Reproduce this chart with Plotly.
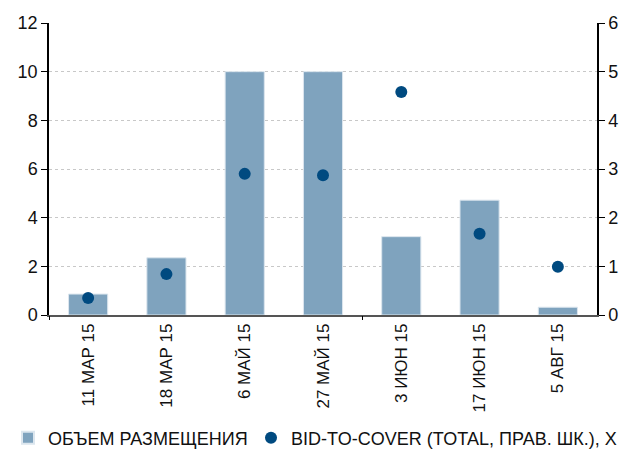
import plotly.graph_objects as go

categories = ["11 МАР 15", "18 МАР 15", "6 МАЙ 15", "27 МАЙ 15", "3 ИЮН 15", "17 ИЮН 15", "5 АВГ 15"]
volume = [0.86, 2.35, 10.0, 10.0, 3.22, 4.72, 0.32]
bid_to_cover = [0.35, 0.84, 2.90, 2.87, 4.58, 1.67, 0.99]
tick_interval = 4  # category-axis tick mark every 4 categories

FONT = "Liberation Sans Narrow, Arial Narrow, Liberation Sans, Arial, sans-serif"

W, H = 621, 441  # page body has an 8px margin inside the 629x449 window

fig = go.Figure()
fig.add_trace(go.Bar(
    x=categories, y=volume, name="ОБЪЕМ РАЗМЕЩЕНИЯ",
    marker=dict(color="#7fa3be", line=dict(color="#dce6ee", width=1)),
    width=0.5, yaxis="y", legend="legend",
))
fig.add_trace(go.Scatter(
    x=categories, y=bid_to_cover, name="BID-TO-COVER (TOTAL, ПРАВ. ШК.), X",
    mode="markers", marker=dict(color="#004a80", size=12),
    yaxis="y2", legend="legend2",
))

legend_common = dict(orientation="h", xref="container", yref="container",
                     xanchor="left", y=(H - 430) / H, yanchor="middle",
                     font=dict(size=18), itemsizing="constant",
                     itemwidth=30, bgcolor="rgba(0,0,0,0)")

n = len(categories)
boundary_ticks = [i - 0.5 for i in range(0, n + 1, tick_interval)]

fig.update_layout(
    width=W, height=H,
    margin=dict(l=41, r=32, t=15, b=134),
    paper_bgcolor="white", plot_bgcolor="white",
    font=dict(family=FONT, size=18, color="#111111"),
    showlegend=True,
    legend=dict(x=-4 / W, **legend_common),
    legend2=dict(x=243 / W, **legend_common),
    xaxis=dict(
        type="category", tickangle=-90, showgrid=False, automargin=False,
        showline=True, linecolor="#555555", linewidth=1.5,
        ticks="", tickfont=dict(size=17),
    ),
    xaxis2=dict(
        overlaying="x", side="bottom", range=[-0.5, n - 0.5],
        tickvals=boundary_ticks, ticks="outside", ticklen=4, tickcolor="#000000",
        tickwidth=1, showticklabels=False, showgrid=False, showline=False,
        zeroline=False, automargin=False,
    ),
    yaxis=dict(
        range=[0, 12], dtick=2, showgrid=True, automargin=False,
        gridcolor="#c8c8c8", griddash="dot", gridwidth=1,
        showline=True, linecolor="#000000", linewidth=1.5,
        ticks="outside", ticklen=6, tickcolor="#000000",
        zeroline=False, tickfont=dict(size=18),
    ),
    yaxis2=dict(
        range=[0, 6], dtick=1, overlaying="y", side="right", automargin=False,
        showgrid=False, showline=True, linecolor="#000000", linewidth=1.5,
        ticks="outside", ticklen=6, tickcolor="#000000",
        zeroline=False, tickfont=dict(size=18),
    ),
)

# an invisible anchor trace so the tick-mark axis is drawn
fig.add_trace(go.Scatter(x=[], y=[], xaxis="x2", yaxis="y", showlegend=False,
                         hoverinfo="skip"))

fig.write_html("out.html")
